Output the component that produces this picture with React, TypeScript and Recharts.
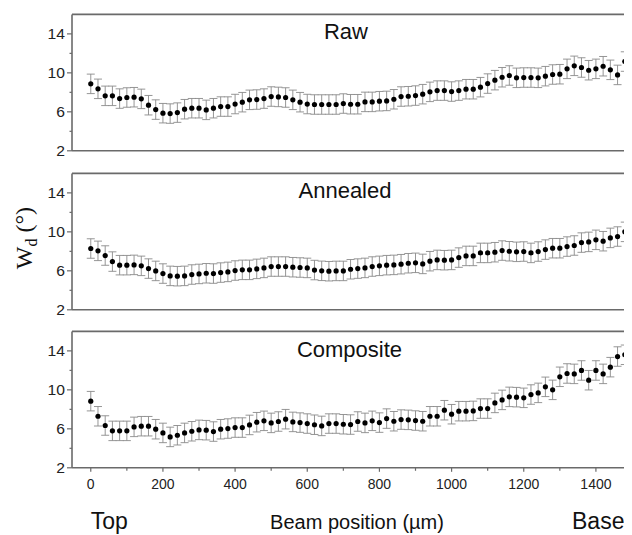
import React from "react";
import { ScatterChart, Scatter, XAxis, YAxis, ErrorBar, ReferenceLine } from "recharts";

// Beam positions (µm)
const positions = [
  0, 20, 40, 60, 80, 100, 120, 140, 160, 180, 200, 220, 240, 260, 280, 300, 320, 340, 360, 380,
  400, 420, 440, 460, 480, 500, 520, 540, 560, 580, 600, 620, 640, 660, 680, 700, 720, 740, 760, 780,
  800, 820, 840, 860, 880, 900, 920, 940, 960, 980, 1000, 1020, 1040, 1060, 1080, 1100, 1120, 1140, 1160, 1180,
  1200, 1220, 1240, 1260, 1280, 1300, 1320, 1340, 1360, 1380, 1400, 1420, 1440, 1460, 1480,
];

// W_d (°) values
const rawValues = [
  8.87, 8.36, 7.64, 7.64, 7.36, 7.47, 7.5, 7.33, 6.68, 6.23, 5.86, 5.82, 5.92, 6.27, 6.37, 6.37, 6.2, 6.37, 6.54, 6.54,
  6.8, 6.99, 7.23, 7.26, 7.36, 7.57, 7.53, 7.47, 7.23, 6.99, 6.8, 6.75, 6.75, 6.75, 6.75, 6.85, 6.78, 6.78, 7.02, 7.02,
  7.09, 7.12, 7.29, 7.57, 7.6, 7.67, 7.81, 8.05, 8.18, 8.18, 8.08, 8.18, 8.32, 8.32, 8.53, 8.9, 9.25, 9.55, 9.73, 9.49,
  9.52, 9.52, 9.49, 9.66, 9.83, 9.86, 10.41, 10.72, 10.55, 10.27, 10.41, 10.68, 10.31, 9.79, 11.16,
];
const annealedValues = [
  8.29, 8.05, 7.57, 6.95, 6.58, 6.58, 6.61, 6.51, 6.23, 5.99, 5.72, 5.48, 5.45, 5.48, 5.62, 5.68, 5.75, 5.72, 5.82, 5.89,
  6.03, 6.1, 6.1, 6.2, 6.3, 6.44, 6.44, 6.44, 6.37, 6.34, 6.3, 6.08, 6.0, 5.96, 5.99, 5.99, 6.16, 6.23, 6.3, 6.44,
  6.51, 6.58, 6.61, 6.68, 6.78, 6.82, 6.71, 6.99, 7.12, 7.09, 7.12, 7.36, 7.53, 7.53, 7.84, 7.84, 7.91, 8.08, 8.01, 7.95,
  7.98, 7.84, 7.98, 8.18, 8.32, 8.32, 8.49, 8.6, 8.9, 8.97, 9.18, 9.04, 9.38, 9.52, 10.0,
];
const compositeValues = [
  8.84, 7.29, 6.34, 5.79, 5.79, 5.79, 6.2, 6.27, 6.27, 5.96, 5.58, 5.17, 5.34, 5.58, 5.75, 5.89, 5.86, 5.72, 5.96, 6.03,
  6.13, 6.13, 6.4, 6.68, 6.82, 6.61, 6.75, 6.99, 6.71, 6.64, 6.54, 6.42, 6.3, 6.54, 6.54, 6.47, 6.44, 6.75, 6.61, 6.82,
  6.64, 7.05, 6.78, 6.95, 6.92, 6.85, 6.78, 7.29, 7.29, 7.91, 7.5, 7.81, 7.81, 7.84, 8.08, 8.08, 8.66, 8.97, 9.28, 9.25,
  9.18, 9.52, 9.69, 10.31, 10.0, 11.34, 11.68, 11.64, 11.99, 10.99, 11.99, 11.64, 12.33, 13.42, 13.6,
];

// Error half-widths (°)
const rawErrors = [
  1.0, 1.0, 1.0, 1.0, 1.0, 1.0, 1.0, 1.0, 1.0, 1.0, 1.0, 1.0, 1.0, 1.0, 1.0, 1.0, 1.0, 1.0, 1.0, 1.0,
  1.0, 1.0, 1.0, 1.0, 1.0, 1.0, 1.0, 1.0, 1.0, 1.0, 1.0, 1.0, 1.0, 1.0, 1.0, 1.0, 1.0, 1.0, 1.0, 1.0,
  1.0, 1.0, 1.0, 1.0, 1.0, 1.0, 1.0, 1.0, 1.0, 1.0, 1.0, 1.0, 1.0, 1.0, 1.0, 1.0, 1.0, 1.0, 1.0, 1.0,
  1.0, 1.0, 1.0, 1.0, 1.0, 1.0, 1.0, 1.0, 1.0, 1.0, 1.0, 1.0, 1.0, 1.0, 1.0,
];
const annealedErrors = [
  1.0, 1.0, 1.0, 1.0, 1.0, 1.0, 1.0, 1.0, 1.0, 1.0, 1.0, 1.0, 1.0, 1.0, 1.0, 1.0, 1.0, 1.0, 1.0, 1.0,
  1.0, 1.0, 1.0, 1.0, 1.0, 1.0, 1.0, 1.0, 1.0, 1.0, 1.0, 1.0, 1.0, 1.0, 1.0, 1.0, 1.0, 1.0, 1.0, 1.0,
  1.0, 1.0, 1.0, 1.0, 1.0, 1.0, 1.0, 1.0, 1.0, 1.0, 1.0, 1.0, 1.0, 1.0, 1.0, 1.0, 1.0, 1.0, 1.0, 1.0,
  1.0, 1.0, 1.0, 1.0, 1.0, 1.0, 1.0, 1.0, 1.0, 1.0, 1.0, 1.0, 1.0, 1.0, 1.0,
];
const compositeErrors = [
  1.0, 1.0, 1.0, 1.0, 1.0, 1.0, 1.0, 1.0, 1.0, 1.0, 1.0, 1.0, 1.0, 1.0, 1.0, 1.0, 1.0, 1.0, 1.0, 1.0,
  1.0, 1.0, 1.0, 1.0, 1.0, 1.0, 1.0, 1.0, 1.0, 1.0, 1.0, 1.0, 1.0, 1.0, 1.0, 1.0, 1.0, 1.0, 1.0, 1.0,
  1.0, 1.0, 1.0, 1.0, 1.0, 1.0, 1.0, 1.0, 1.0, 1.0, 1.0, 1.0, 1.0, 1.0, 1.0, 1.0, 1.0, 1.0, 1.0, 1.0,
  1.0, 1.0, 1.0, 1.0, 1.0, 1.0, 1.0, 1.0, 1.0, 1.0, 1.0, 1.0, 1.0, 1.0, 1.0,
];

const panelTitles = ["Raw", "Annealed", "Composite"];
const yTicks = [2, 4, 6, 8, 10, 12, 14];
const yLabeledTicks = [2, 6, 10, 14];
const xTicks = [0, 100, 200, 300, 400, 500, 600, 700, 800, 900, 1000, 1100, 1200, 1300, 1400];
const xLabeledTicks = [0, 200, 400, 600, 800, 1000, 1200, 1400];
const xDomain = [-52, 1500];
const yDomain = [2, 16];

const AXIS = "#6a6a6a";
const SANS = "'Liberation Sans', Arial, sans-serif";
const SERIF = "'Liberation Serif', 'Times New Roman', serif";

const PLOT_H = 136.4;
const MARGIN_TOP = 14.4;
const PANEL_STEP = 158.6;

const buildData = (vals: number[], errs: number[]) =>
  positions.map((x, i) => ({ x, y: vals[i], e: errs[i] }));

const panels = [
  { title: panelTitles[0], data: buildData(rawValues, rawErrors), titleX: 346 },
  { title: panelTitles[1], data: buildData(annealedValues, annealedErrors), titleX: 345 },
  { title: panelTitles[2], data: buildData(compositeValues, compositeErrors), titleX: 349.5 },
];

const YTick = (props: any) => {
  const { x, y, payload } = props;
  const v = payload.value;
  const major = yLabeledTicks.includes(v);
  return (
    <g>
      <line x1={x + (major ? 2 : 4.5)} x2={x + 7} y1={y} y2={y} stroke={AXIS} strokeWidth={1.2} />
      {major && (
        <text
          transform={`translate(${x},${y}) scale(1.12,1)`}
          textAnchor="end"
          dy="0.36em"
          fontSize={14}
          fontFamily={SANS}
          fill="#222"
        >
          {v}
        </text>
      )}
    </g>
  );
};

const XTick = (props: any) => {
  const { x, y, payload } = props;
  const v = payload.value;
  const major = xLabeledTicks.includes(v);
  const axisY = y - 7;
  return (
    <g>
      <line x1={x} x2={x} y1={axisY} y2={axisY + (major ? 4 : 3)} stroke={AXIS} strokeWidth={1.2} />
      {major && (
        <text x={x} y={axisY + 21} textAnchor="middle" fontSize={14} fontFamily={SANS} fill="#222">
          {v}
        </text>
      )}
    </g>
  );
};

const Dot = (props: any) => {
  const { cx, cy } = props;
  if (cx == null || cy == null) return <g />;
  return <circle cx={cx} cy={cy} r={2.6} fill="#000" />;
};

const Panel = ({ data, last }: { data: any[]; last: boolean }) => {
  const xh = last ? 30 : 10;
  return (
    <ScatterChart
      width={632}
      height={MARGIN_TOP + PLOT_H + xh}
      margin={{ top: MARGIN_TOP, right: 0, bottom: 0, left: 0 }}
    >
      <XAxis
        type="number"
        dataKey="x"
        domain={xDomain}
        allowDataOverflow
        ticks={xTicks}
        interval={0}
        height={xh}
        tick={last ? <XTick /> : false}
        tickLine={false}
        tickSize={4}
        tickMargin={3}
        axisLine={{ stroke: AXIS, strokeWidth: 1.6 }}
      />
      <YAxis
        type="number"
        dataKey="y"
        domain={yDomain}
        allowDataOverflow
        ticks={yTicks}
        interval={0}
        width={72}
        tick={<YTick />}
        tickLine={false}
        tickSize={5}
        tickMargin={2}
        axisLine={{ stroke: AXIS, strokeWidth: 1.6 }}
      />
      <ReferenceLine y={16} stroke={AXIS} strokeWidth={1.6} />
      <Scatter data={data} fill="#000" shape={<Dot />} isAnimationActive={false}>
        <ErrorBar dataKey="e" direction="y" width={4} stroke="#8a8a8a" strokeWidth={0.9} isAnimationActive={false} />
      </Scatter>
    </ScatterChart>
  );
};

export default function App() {
  return (
    <div
      style={{
        position: "relative",
        width: 632,
        height: 535,
        marginLeft: -8,
        marginTop: -8,
        background: "#fff",
        overflow: "hidden",
      }}
    >
      {panels.map((p, i) => (
        <div key={p.title} style={{ position: "absolute", left: 0, top: i * PANEL_STEP }}>
          <Panel data={p.data} last={i === panels.length - 1} />
        </div>
      ))}
      <svg
        width={632}
        height={535}
        style={{ position: "absolute", left: 0, top: 0, pointerEvents: "none" }}
      >
        {panels.map((p, i) => (
          <text
            key={p.title}
            x={p.titleX}
            y={MARGIN_TOP + i * PANEL_STEP + 25}
            textAnchor="middle"
            fontSize={22}
            fontFamily={SANS}
            fill="#111"
          >
            {p.title}
          </text>
        ))}
        <text
          transform="translate(32,238) rotate(-90)"
          textAnchor="middle"
          fontSize={24}
          fontFamily={SERIF}
          fill="#111"
        >
          W
          <tspan fontSize={16} dy={5}>
            d
          </tspan>
          <tspan dy={-5}> (°)</tspan>
        </text>
        <text x={90.7} y={529} fontSize={23} fontFamily={SANS} fill="#111">
          Top
        </text>
        <text x={357} y={529} textAnchor="middle" fontSize={20} fontFamily={SANS} fill="#111">
          Beam position (µm)
        </text>
        <text x={572} y={529} fontSize={23} fontFamily={SANS} fill="#111">
          Base
        </text>
      </svg>
    </div>
  );
}
